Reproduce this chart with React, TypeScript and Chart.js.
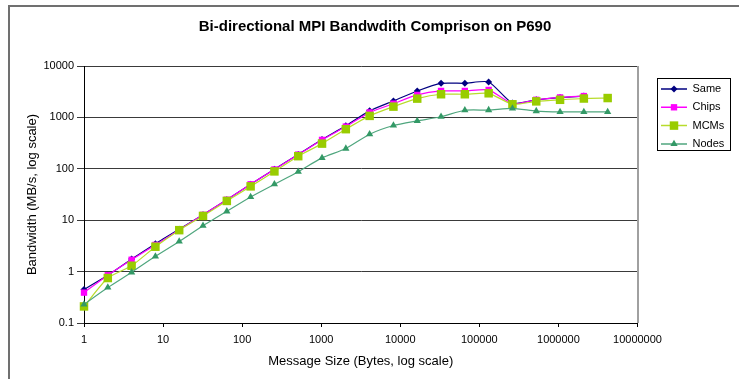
import React, { useEffect, useRef } from 'react';
import { Chart, registerables } from 'chart.js';

Chart.register(...registerables);

// ---- data ----
const messageSizes = [1, 2, 4, 8, 16, 32, 64, 128, 256, 512, 1024, 2048, 4096, 8192, 16384, 32768, 65536, 131072, 262144, 524288, 1048576, 2097152, 4194304];
const sameBW = [0.45, 0.85, 1.75, 3.5, 6.7, 12.7, 25, 50, 98, 190, 370, 690, 1340, 2090, 3270, 4600, 4600, 4890, 1900, 2200, 2430, 2600];
const chipsBW = [0.39, 0.85, 1.7, 3.3, 6.5, 12.7, 25, 50, 97, 189, 365, 663, 1250, 1850, 2735, 3270, 3270, 3420, 1850, 2200, 2450, 2600];
const mcmsBW = [0.21, 0.75, 1.3, 3.05, 6.4, 12.1, 23.7, 45.5, 89, 176, 309, 590, 1070, 1620, 2320, 2820, 2820, 2945, 1800, 2050, 2200, 2330, 2380];
const nodesBW = [0.23, 0.49, 0.97, 1.98, 3.86, 7.8, 14.9, 28.3, 50, 88, 163, 248, 471, 696, 855, 1030, 1377, 1390, 1500, 1330, 1280, 1280, 1280];
const seriesNames = ['Same', 'Chips', 'MCMs', 'Nodes'];
const xTickValues = [1, 10, 100, 1000, 10000, 100000, 1000000, 10000000];
const yTickValues = [0.1, 1, 10, 100, 1000, 10000];
const chartTitle = 'Bi-directional MPI Bandwdith Comprison on P690';
const xTitle = 'Message Size (Bytes, log scale)';
const yTitle = 'Bandwidth (MB/s, log scale)';

const FONT = "'Liberation Sans', Arial, sans-serif";

function toPoints(vals: number[]) {
  return vals.map((v, i) => ({ x: messageSizes[i], y: v }));
}

function drawMarker(ctx: CanvasRenderingContext2D, style: string, x: number, y: number, r: number, color: string) {
  ctx.save();
  ctx.fillStyle = color;
  ctx.strokeStyle = color;
  ctx.beginPath();
  if (style === 'rectRot') {
    ctx.moveTo(x, y - r);
    ctx.lineTo(x + r, y);
    ctx.lineTo(x, y + r);
    ctx.lineTo(x - r, y);
    ctx.closePath();
  } else if (style === 'rect') {
    const s = r * Math.SQRT1_2;
    ctx.rect(x - s, y - s, 2 * s, 2 * s);
  } else if (style === 'triangle') {
    const side = (3 * r) / Math.sqrt(3);
    const h = (side * Math.sqrt(3)) / 2;
    ctx.moveTo(x, y - r);
    ctx.lineTo(x + side / 2, y - r + h);
    ctx.lineTo(x - side / 2, y - r + h);
    ctx.closePath();
  }
  ctx.fill();
  ctx.restore();
}

const framePlugin = {
  id: 'excelFrame',
  beforeLayout(chart: any) {
    const lg: any = chart.legend;
    if (lg && !lg.__patched) {
      const orig = lg.fit.bind(lg);
      lg.fit = function () {
        orig();
        this.width = 101.5;
      };
      lg.__patched = true;
    }
  },
  afterUpdate(chart: any) {
    const lg: any = chart.legend;
    if (lg) {
      lg.left = 653.7;
      lg.top = 76.2;
      lg.right = lg.left + 90;
      lg.bottom = lg.top + 90;
    }
  },
  beforeDraw(chart: any) {
    const ctx = chart.ctx;
    ctx.save();
    ctx.strokeStyle = '#707070';
    ctx.lineWidth = 2;
    ctx.beginPath();
    ctx.moveTo(9, 379);
    ctx.lineTo(9, 6);
    ctx.lineTo(739, 6);
    ctx.stroke();
    ctx.restore();
  },
  afterDraw(chart: any) {
    const ctx = chart.ctx;
    const ca = chart.chartArea;
    ctx.save();
    ctx.strokeStyle = '#A0A0A0';
    ctx.lineWidth = 2;
    ctx.beginPath();
    ctx.moveTo(ca.right + 0.5, ca.top);
    ctx.lineTo(ca.right + 0.5, ca.bottom);
    ctx.stroke();
    ctx.strokeStyle = '#000';
    ctx.lineWidth = 1;
    ctx.strokeRect(657.5, 78.5, 73, 72);
    ctx.restore();
    const lg: any = chart.legend;
    if (lg) {
      const lo = lg.options.labels;
      const pad = lo.padding;
      const fs = lo.font.size;
      chart.data.datasets.forEach((ds: any, i: number) => {
        const cx = lg.left + pad + lo.boxWidth / 2;
        const cy = lg.top + pad + i * (fs + pad) + fs / 2;
        drawMarker(ctx, ds.pointStyle, cx, cy, ds.pointRadius, ds.pointBackgroundColor);
      });
    }
  },
};

export default function App() {
  const canvasRef = useRef<HTMLCanvasElement | null>(null);

  useEffect(() => {
    if (!canvasRef.current) return;
    Chart.defaults.font.family = FONT;
    Chart.defaults.color = '#000';
    const styles = [
      { line: '#000080', point: '#000080', style: 'rectRot', r: 3.5, order: 3 },
      { line: '#FF00FF', point: '#FF00FF', style: 'rect', r: 4.5, order: 2 },
      { line: '#B8DC2C', point: '#99CC00', style: 'rect', r: 6, order: 1 },
      { line: '#4FA67E', point: '#339966', style: 'triangle', r: 4.2, order: 0 },
    ];
    const series = [sameBW, chipsBW, mcmsBW, nodesBW];
    const datasets = series.map((vals, i) => ({
      label: seriesNames[i],
      data: toPoints(vals),
      borderColor: styles[i].line,
      backgroundColor: styles[i].line,
      borderWidth: 1.2,
      pointStyle: styles[i].style,
      pointRadius: styles[i].r,
      pointBackgroundColor: styles[i].point,
      pointBorderColor: styles[i].point,
      pointBorderWidth: 0,
      showLine: true,
      tension: 0.2,
      clip: false,
      order: styles[i].order,
    }));

    const chart = new Chart(canvasRef.current, {
      type: 'scatter',
      data: { datasets },
      options: {
        animation: false,
        responsive: false,
        devicePixelRatio: 1,
        layout: { padding: { left: 11, right: 0, top: 0, bottom: 0 } },
        plugins: {
          title: {
            display: true,
            text: chartTitle,
            color: '#000',
            font: { size: 15, weight: 'bold', family: FONT },
            padding: { top: 18, bottom: 30 },
          },
          legend: {
            display: true,
            position: 'right',
            align: 'start',
            fullSize: false,
            labels: {
              boxWidth: 26,
              boxHeight: 1.5,
              padding: 7.3,
              color: '#000',
              font: { size: 11, family: FONT },
              generateLabels: (c: any) =>
                c.data.datasets.map((ds: any, i: number) => ({
                  text: ds.label,
                  fillStyle: ds.borderColor,
                  strokeStyle: ds.borderColor,
                  lineWidth: 0,
                  hidden: false,
                  datasetIndex: i,
                  fontColor: '#000',
                })),
            },
          },
          tooltip: { enabled: false },
        },
        scales: {
          x: {
            type: 'logarithmic',
            min: 1,
            max: 10000000,
            afterBuildTicks: (scale: any) => {
              scale.ticks = xTickValues.map((v) => ({ value: v }));
            },
            afterFit: (scale: any) => {
              scale.height = 56;
            },
            ticks: {
              autoSkip: false,
              maxRotation: 0,
              padding: 6.4,
              color: '#000',
              font: { size: 11, family: FONT },
              callback: (v: any) => String(v),
            },
            grid: {
              display: true,
              drawOnChartArea: false,
              drawTicks: true,
              tickLength: 4,
              color: '#000',
            },
            border: { display: true, color: '#000', width: 1 },
            title: {
              display: true,
              text: xTitle,
              color: '#000',
              font: { size: 13, family: FONT },
              padding: { top: 0, bottom: 10.2 },
            },
          },
          y: {
            type: 'logarithmic',
            min: 0.1,
            max: 10000,
            afterBuildTicks: (scale: any) => {
              scale.ticks = yTickValues.map((v) => ({ value: v }));
            },
            afterFit: (scale: any) => {
              scale.width = 73;
            },
            ticks: {
              autoSkip: false,
              padding: 3,
              color: '#000',
              font: { size: 11, family: FONT },
              callback: (v: any) => String(v),
            },
            grid: {
              display: true,
              drawOnChartArea: true,
              drawTicks: true,
              tickLength: 7,
              color: '#3A3A3A',
              lineWidth: 1,
            },
            border: { display: true, color: '#000', width: 1 },
            title: {
              display: true,
              text: yTitle,
              color: '#000',
              font: { size: 13, family: FONT },
              padding: { top: 13.2, bottom: 0 },
            },
          },
        },
      },
      plugins: [framePlugin],
    } as any);

    return () => {
      chart.destroy();
    };
  }, []);

  return (
    <div style={{ position: 'fixed', left: 0, top: 0, width: 739, height: 379, background: '#fff' }}>
      <canvas ref={canvasRef} width={739} height={379} style={{ display: 'block', width: 739, height: 379 }} />
    </div>
  );
}
